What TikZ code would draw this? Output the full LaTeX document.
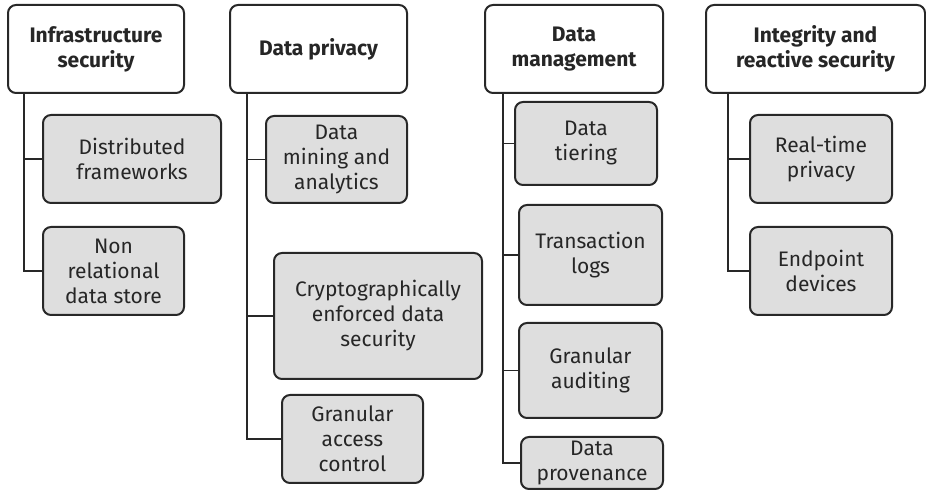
\documentclass[tikz,border=0pt]{standalone}
\usepackage{fontspec}
\setmainfont{Fira Sans}
\usetikzlibrary{positioning}
\definecolor{boxgray}{RGB}{222, 222, 222}
\definecolor{edgegray}{RGB}{40, 40, 40}

\begin{document}
\begin{tikzpicture}[x=0.5pt, y=-0.5pt,
        headbox/.style={draw=edgegray, line width=1pt, rounded corners=4pt,
            fill=white, align=center, inner sep=1pt, minimum height=44pt,
            font=\fontsize{10.5}{12.5}\selectfont\bfseries, text=black!85},
        itembox/.style={draw=edgegray, line width=1pt, rounded corners=4pt,
            fill=boxgray, align=center, inner sep=1pt,
            font=\fontsize{10.5}{12.5}\selectfont, text=black!85},
        link/.style={draw=edgegray, line width=0.9pt}
    ]
    \useasboundingbox (0,0) rectangle (926,490);

    % === Column 1: Infrastructure security ===
    \node[headbox, minimum width=88pt] (infra) at (96,49)
        {Infrastructure\\security};
    \node[itembox, minimum width=89pt, minimum height=44pt] (distfw) at (132,159)
        {Distributed\\frameworks};
    \node[itembox, minimum width=70.5pt, minimum height=44pt] (nonrel) at (113.5,271)
        {Non\\relational\\data store};
    \draw[link] ([xshift=8.5pt]infra.south west) |- (distfw.west);
    \draw[link] ([xshift=8.5pt]infra.south west) |- (nonrel.west);

    % === Column 2: Data privacy ===
    \node[headbox, minimum width=88.5pt] (privacy) at (318.5,49)
        {Data privacy};
    \node[itembox, minimum width=70.5pt, minimum height=43.5pt] (mining) at (336.5,159.5)
        {Data\\mining and\\analytics};
    \node[itembox, minimum width=104pt, minimum height=63pt] (crypto) at (378,316)
        {Cryptographically\\enforced data\\security};
    \node[itembox, minimum width=70.5pt, minimum height=44pt] (access) at (352.5,439)
        {Granular\\access\\control};
    \draw[link] ([xshift=9pt]privacy.south west) |- (mining.west);
    \draw[link] ([xshift=9pt]privacy.south west) |- (crypto.west);
    \draw[link] ([xshift=9pt]privacy.south west) |- (access.west);

    % === Column 3: Data management ===
    \node[headbox, minimum width=89pt] (manage) at (574,49)
        {Data\\management};
    \node[itembox, minimum width=71pt, minimum height=41.5pt] (tiering) at (586,143.5)
        {Data\\tiering};
    \node[itembox, minimum width=71.5pt, minimum height=50pt] (translog) at (590.5,255)
        {Transaction\\logs};
    \node[itembox, minimum width=71.5pt, minimum height=47.5pt] (auditing) at (590.5,370.5)
        {Granular\\auditing};
    \node[itembox, minimum width=71pt, minimum height=26pt] (provenance) at (592,463)
        {Data\\provenance};
    \draw[link] ([xshift=9.5pt]manage.south west) |- (tiering.west);
    \draw[link] ([xshift=9.5pt]manage.south west) |- (translog.west);
    \draw[link] ([xshift=9.5pt]manage.south west) |- (auditing.west);
    \draw[link] ([xshift=9.5pt]manage.south west) |- (provenance.west);

    % === Column 4: Integrity and reactive security ===
    \node[headbox, minimum width=109.5pt] (integrity) at (815.5,49)
        {Integrity and\\reactive security};
    \node[itembox, minimum width=71pt, minimum height=44pt] (realtime) at (821,159)
        {Real-time\\privacy};
    \node[itembox, minimum width=71pt, minimum height=44pt] (endpoint) at (821,271)
        {Endpoint\\devices};
    \draw[link] ([xshift=11.5pt]integrity.south west) |- (realtime.west);
    \draw[link] ([xshift=11.5pt]integrity.south west) |- (endpoint.west);

    \end{tikzpicture}
\end{document}
